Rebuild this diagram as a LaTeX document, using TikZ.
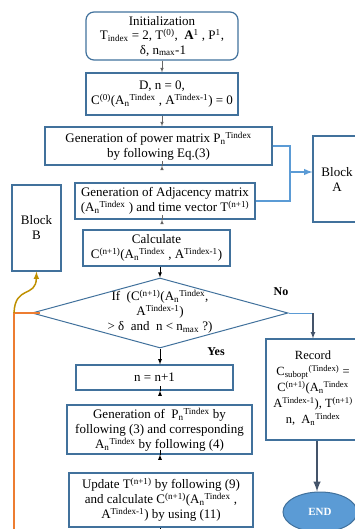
\documentclass[tikz,border=0pt]{standalone}
\usepackage{fontspec}
\setmainfont{Liberation Serif}
\usepackage{xcolor}
\usepackage{tikz}
\usetikzlibrary{shapes.geometric}

\definecolor{boxblue}{RGB}{65,113,156}
\definecolor{lightblue}{RGB}{91,155,213}
\definecolor{looporange}{RGB}{237,125,49}
\definecolor{loopgold}{RGB}{191,144,0}
\definecolor{slate}{RGB}{68,84,106}

\newcommand{\supT}{\textsuperscript{Tindex}}
\newcommand{\supTm}{\textsuperscript{Tindex-1}}
\newcommand{\AnT}{A\textsubscript{n}\supT}
\newcommand{\CnP}{C\textsuperscript{(n+1)}}
\newcommand{\TnP}{T\textsuperscript{(n+1)}}

\begin{document}
\begin{tikzpicture}[x=1pt, y=-1pt,
    box/.style={draw=boxblue, line width=1.2pt, align=center, inner sep=0pt,
        font=\fontsize{13}{15}\selectfont},
    flow/.style={-latex, black, line width=0.8pt},
    thin flow/.style={-latex, gray!80!black, line width=0.6pt},
    bus/.style={lightblue, line width=1.8pt}]
    \clip (0,0) rectangle (355,529);

    % main column
    \node[box, rounded corners=8pt, minimum width=152, minimum height=48,
        font=\fontsize{13}{14.5}\selectfont] (init) at (162,36)
        {Initialization\\T\textsubscript{index} = 2, T\textsuperscript{(0)},~ \textbf{A}\textsuperscript{1} , P\textsuperscript{1},\\$\,$δ, n\textsubscript{max}-1};
    \node[box, minimum width=152, minimum height=42] (dstart) at (162,94)
        {D, n = 0,\\C\textsuperscript{(0)}(\AnT\ , A\supTm) = 0};
    \node[box, minimum width=227, minimum height=38] (power) at (158.5,146)
        {Generation of power matrix P\textsubscript{n}\supT\\by following Eq.(3)};
    \node[box, minimum width=180, minimum height=36] (adj) at (165,201)
        {Generation of Adjacency matrix\\(\AnT\ ) and time vector \TnP};
    \node[box, minimum width=147, minimum height=36] (calc) at (156.5,248)
        {Calculate\\\CnP(\AnT\ , A\supTm)};
    \node[draw=boxblue, line width=1pt, diamond, minimum width=256, minimum height=70,
        inner sep=0pt] (cond) at (160,313) {};
    \node[align=center, font=\fontsize{13}{15}\selectfont] (condtxt) at (160,312)
        {If~ (\CnP(\AnT ,\\A\supTm)\\\textgreater{} δ~ and~ n \textless{} n\textsubscript{max} ?)};
    \node[box, minimum width=157, minimum height=25] (incr) at (154.5,377.5) {n = n+1};
    \node[box, minimum width=185, minimum height=49] (gen) at (159.5,429.5)
        {Generation of~ P\textsubscript{n}\supT\ by\\following (3) and corresponding\\\AnT\ by following (4)};
    \node[box, minimum width=184, minimum height=54] (upd) at (161,500)
        {Update \TnP\ by following (9)\\and calculate \CnP(\AnT\ ,\\A\supTm) by using (11)};

    % side blocks
    \node[box, minimum width=48, minimum height=86] (blockA) at (337,179) {Block\\A};
    \node[box, minimum width=49, minimum height=86] (blockB) at (36.5,228) {Block\\B};
    \node[box, minimum width=102, minimum height=101] (rec) at (317,389.5) {};
    \node[align=center, font=\fontsize{12.5}{16}\selectfont] (rectxt) at (313,388)
        {Record\\C\textsubscript{subopt}\textsuperscript{(Tindex)} =\\\CnP(\AnT\\A\supTm), \TnP\\n,~ \AnT};
    \node[ellipse, draw=boxblue, fill=lightblue, line width=1pt, minimum width=74,
        minimum height=40, inner sep=0pt, text=white, font=\fontsize{11}{13}\selectfont\bfseries]
        (end) at (320,512) {END};

    \node[font=\fontsize{12}{14}\selectfont\bfseries] (nolab) at (281,292) {No};
    \node[font=\fontsize{12}{14}\selectfont\bfseries] (yeslab) at (216,352) {Yes};

    \coordinate (busA) at (290,172);
    \coordinate (noturn) at (313,313);
    \coordinate (loopA) at (14,313);
    \coordinate (loopB) at (14,535);
    \coordinate (exit) at (160,535);

    % connectors
    \draw[thin flow] (init.south) -- (dstart.north);
    \draw[thin flow] (dstart.south) -- (dstart.south |- power.north);
    \draw[thin flow] (power.south -| dstart.south) -- (power.south -| dstart.south |- adj.north);
    \draw[thin flow] (adj.south -| dstart.south) -- (adj.south -| dstart.south |- calc.north);
    \draw[flow] (calc.south -| cond.north) -- (cond.north);
    \draw[flow] (cond.south) -- (cond.south |- incr.north);
    \draw[flow] (incr.south -| cond.south) -- (incr.south -| cond.south |- gen.north);
    \draw[flow] (gen.south -| cond.south) -- (gen.south -| cond.south |- upd.north);
    \draw[black, line width=0.8pt] (upd.south -| cond.south) -- (exit);

    \draw[bus] (power.east) -| (busA) |- (adj.east);
    \draw[bus, -latex] (busA) -- (busA -| blockA.west);

    \draw[lightblue, line width=1pt] (cond.east) -- (noturn);
    \draw[slate, line width=1.2pt, -latex] (noturn) -- (noturn |- rec.north);
    \draw[slate, line width=2.4pt, -latex] (rec.south) -- (rec.south |- end.north);

    \draw[looporange, line width=1.5pt] ([xshift=8pt]cond.west) -- (loopA) -- (loopB);
    \draw[loopgold, line width=1.5pt, -latex] (loopA) .. controls (15,285) and (36,298) .. (blockB.south);
\end{tikzpicture}
\end{document}
